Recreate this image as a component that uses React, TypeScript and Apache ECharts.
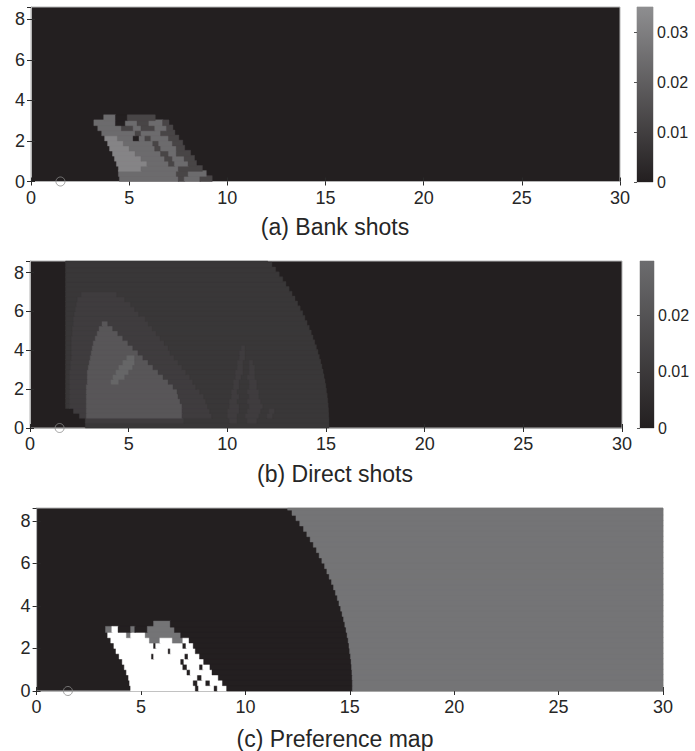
import React, { useEffect, useRef } from 'react';
import * as echarts from 'echarts';

const FONT = '"Liberation Sans", Arial, Helvetica, sans-serif';
const X_MAX = 30;
const X_STEP = 5;
const Y_MAX = 8.6;
const Y_STEP = 2;
const ROW_STEP = 0.25;

// Row format: "xStart level xEnd level xEnd ..."; rows go upward in steps of ROW_STEP from y = 0.
const bankLevels = [0, 0.012, 0.024, 0.032];
const bankRows = [
  '4.5 2 7.5 1 7.8 2 8.6 1 9.2',
  '4.45 2 7.4 1 8.0 2 8.9',
  '4.45 3 5.6 2 7.5 1 8.7',
  '4.35 3 5.9 2 7.0 1 7.3 2 8.0 1 8.4',
  '4.25 3 5.6 2 6.8 1 7.2 2 7.8 1 8.3',
  '4.15 3 5.3 2 6.6 1 7.0 2 7.4 1 8.1',
  '4.0 3 5.0 2 6.3 1 6.6 2 7.4 1 7.8',
  '3.9 3 4.7 2 6.2 1 6.5 2 7.2 1 7.7',
  '3.75 3 4.4 2 5.2 0 5.5 2 5.8 1 6.1 2 7.0 1 7.5',
  '3.6 2 5.3 1 5.6 2 6.6 1 7.3',
  '3.4 2 4.6 1 5.2 2 5.6 1 6.3 2 6.9 1 7.2',
  '3.2 2 4.3 0 4.8 2 5.4 1 6.0 2 6.7 1 7.0',
  '3.7 2 4.3 0 4.9 1 6.3',
];
const bankColorMax = 0.035;
const bankColors = ['#231f20', '#8e8e90'];

const directLevels = [0, 0.0091, 0.0113, 0.0214, 0.0272];
const directRows = [
  '2.8 1 15.12',
  '2.8 2 7.8 1 10.1 2 10.5 1 11.0 2 11.5 1 15.12',
  '2.5 2 2.85 3 7.7 2 9.2 1 10.0 2 10.5 1 10.9 2 11.6 1 12.0 2 12.3 1 15.11',
  '2.2 2 2.85 3 7.7 2 9.1 1 10.0 2 10.6 1 11.0 2 11.7 1 12.1 2 12.4 1 15.10',
  '1.8 1 2.0 2 2.85 3 7.7 2 9.0 1 10.1 2 10.6 1 11.1 2 11.8 1 15.08',
  '1.8 1 2.0 2 2.85 3 7.6 2 8.9 1 10.1 2 10.5 1 11.0 2 11.7 1 15.06',
  '1.8 1 2.0 2 2.85 3 7.5 2 8.8 1 10.2 2 10.6 1 11.1 2 11.6 1 15.03',
  '1.8 1 2.0 2 2.85 3 7.45 2 8.6 1 10.2 2 10.5 1 11.0 2 11.6 1 14.99',
  '1.8 1 2.0 2 2.85 3 7.25 2 8.4 1 10.3 2 10.6 1 11.1 2 11.5 1 14.96',
  '1.8 1 2.0 2 2.9 3 4.1 4 4.5 3 7.0 2 8.25 1 10.3 2 10.6 1 11.1 2 11.5 1 14.92',
  '1.8 1 2.0 2 2.9 3 4.2 4 4.8 3 6.74 2 8.1 1 10.4 2 10.7 1 11.0 2 11.4 1 14.87',
  '1.8 1 2.0 2 2.9 3 4.35 4 5.0 3 6.49 2 7.9 1 10.4 2 10.8 1 11.1 2 11.4 1 14.82',
  '1.8 1 2.05 2 2.95 3 4.5 4 5.2 3 6.23 2 7.7 1 10.5 2 10.8 1 11.1 2 11.4 1 14.76',
  '1.8 1 2.05 2 3.0 3 4.7 4 5.3 3 5.98 2 7.5 1 10.5 2 10.8 1 11.1 2 11.3 1 14.70',
  '1.8 1 2.1 2 3.05 3 4.9 4 5.3 3 5.72 2 7.3 1 10.6 2 10.9 1 14.63',
  '1.8 1 2.1 2 3.1 3 5.47 2 7.1 1 10.6 2 10.9 1 14.56',
  '1.8 1 2.1 2 3.15 3 5.21 2 7.0 1 10.7 2 10.9 1 14.48',
  '1.8 1 2.1 2 3.2 3 4.96 2 6.8 1 14.40',
  '1.8 1 2.1 2 3.3 3 4.7 2 6.6 1 14.31',
  '1.8 1 2.15 2 3.4 3 4.45 2 6.4 1 14.22',
  '1.8 1 2.15 2 3.5 3 4.19 2 6.2 1 14.12',
  '1.8 1 2.2 2 3.65 3 3.94 2 6.0 1 14.01',
  '1.8 1 2.2 2 5.85 1 13.90',
  '1.8 1 2.25 2 5.5 1 13.79',
  '1.8 1 2.3 2 5.3 1 13.66',
  '1.8 1 2.35 2 5.1 1 13.53',
  '1.8 1 2.4 2 4.8 1 13.40',
  '1.8 1 2.6 2 4.4 1 13.25',
  '1.8 1 13.10',
  '1.8 1 12.94',
  '1.8 1 12.78',
  '1.8 1 12.60',
  '1.8 1 12.42',
  '1.8 1 12.23',
  '1.8 1 12.02',
];
const directColorMax = 0.0297;
const directColors = ['#231f20', '#6c6c6e'];

const prefLevels = [0, 1, 2];
const prefRows = [
  '4.5 2 7.6 0 7.75 2 8.5 0 8.65 2 9.1 0 15.12 1 30',
  '4.45 2 7.5 0 7.7 2 8.1 0 8.3 2 8.9 0 15.12 1 30',
  '4.4 2 7.7 0 7.9 2 8.7 0 15.11 1 30',
  '4.3 2 7.2 0 7.35 2 8.4 0 15.10 1 30',
  '4.2 2 7.0 0 7.2 2 7.8 0 7.95 2 8.3 0 15.08 1 30',
  '4.1 2 6.9 0 7.05 2 8.0 0 15.06 1 30',
  '3.95 2 5.5 0 5.6 2 7.1 0 7.25 2 7.8 0 15.03 1 30',
  '3.8 2 6.3 0 6.4 2 7.6 0 14.99 1 30',
  '3.7 2 5.6 0 5.7 2 7.0 0 7.15 2 7.5 0 14.96 1 30',
  '3.55 2 5.4 1 5.9 2 6.5 1 7.0 2 7.3 0 14.92 1 30',
  '3.4 2 4.3 1 4.5 2 5.2 1 6.9 0 14.87 1 30',
  '3.3 1 3.6 2 3.9 0 4.5 1 4.7 0 5.3 1 6.6 0 14.82 1 30',
  '5.6 1 6.4 0 14.76 1 30',
  '14.70 1 30',
  '14.63 1 30',
  '14.56 1 30',
  '14.48 1 30',
  '14.40 1 30',
  '14.31 1 30',
  '14.22 1 30',
  '14.12 1 30',
  '14.01 1 30',
  '13.90 1 30',
  '13.79 1 30',
  '13.66 1 30',
  '13.53 1 30',
  '13.40 1 30',
  '13.25 1 30',
  '13.10 1 30',
  '12.94 1 30',
  '12.78 1 30',
  '12.60 1 30',
  '12.42 1 30',
  '12.23 1 30',
  '12.02 1 30',
];
const prefColors = ['#231f20', '#747476', '#ffffff'];

const hoop = [[1.5, 0]];
const titles = ['(a) Bank shots', '(b) Direct shots', '(c) Preference map'];

function parseRows(rows: string[], levels: number[]) {
  const out: number[][] = [];
  rows.forEach((row, r) => {
    const t = row.trim().split(/\s+/).map(Number);
    let x = t[0];
    for (let i = 1; i + 1 < t.length; i += 2) {
      const xe = t[i + 1];
      out.push([x, xe, r * ROW_STEP, (r + 1) * ROW_STEP, levels[t[i]]]);
      x = xe;
    }
  });
  return out;
}

const renderCell = (params: any, api: any) => {
  const p0 = api.coord([api.value(0), api.value(2)]);
  const p1 = api.coord([api.value(1), api.value(3)]);
  const cs = params.coordSys;
  const shape = echarts.graphic.clipRectByRect(
    { x: p0[0], y: p1[1] - 0.8, width: p1[0] - p0[0] + 0.6, height: p0[1] - p1[1] + 0.8 },
    { x: cs.x, y: cs.y, width: cs.width, height: cs.height }
  );
  if (!shape) return null;
  const color = api.visual('color');
  return { type: 'rect', shape, style: { fill: color, stroke: color, lineWidth: 0.4 } };
};

const renderBar = (colors: string[]) => (params: any) => {
  const cs = params.coordSys;
  return {
    type: 'rect',
    shape: { x: cs.x, y: cs.y, width: cs.width, height: cs.height },
    style: {
      fill: new echarts.graphic.LinearGradient(
        0, 1, 0, 0,
        colors.map((c, i) => ({ offset: i / (colors.length - 1), color: c }))
      ),
    },
  };
};

const TXT = '#262626';
const TICK = '#2a2a2a';
const BORDER = '#b4b4b4';

function plotAxes(gi: number) {
  const xb = {
    gridIndex: gi, type: 'value', min: 0, max: X_MAX, interval: X_STEP, position: 'bottom',
    axisLine: { show: true, lineStyle: { color: BORDER } },
    axisTick: { show: true, inside: true, length: 4, lineStyle: { color: TICK } },
    axisLabel: { show: true, fontSize: 18, fontFamily: FONT, color: TXT, margin: 7 },
    splitLine: { show: false },
  };
  const xt = {
    gridIndex: gi, type: 'value', min: 0, max: X_MAX, interval: X_STEP, position: 'top',
    axisLine: { show: false },
    axisTick: { show: true, inside: true, length: 4, lineStyle: { color: TICK } },
    axisLabel: { show: false },
    splitLine: { show: false },
  };
  const yl = {
    gridIndex: gi, type: 'value', min: 0, max: Y_MAX, interval: Y_STEP, position: 'left',
    axisLine: { show: true, lineStyle: { color: BORDER } },
    axisTick: { show: true, inside: true, length: 4, lineStyle: { color: TICK } },
    axisLabel: { show: true, fontSize: 18, fontFamily: FONT, color: TXT, margin: 6, showMaxLabel: false },
    splitLine: { show: false },
  };
  const yr = {
    gridIndex: gi, type: 'value', min: 0, max: Y_MAX, interval: Y_STEP, position: 'right',
    axisLine: { show: false },
    axisTick: { show: true, inside: true, length: 4, lineStyle: { color: TICK } },
    axisLabel: { show: false },
    splitLine: { show: false },
  };
  return { xs: [xb, xt], ys: [yl, yr] };
}

function barAxes(gi: number, max: number) {
  const x = { gridIndex: gi, type: 'value', min: 0, max: 1, show: false };
  const y = {
    gridIndex: gi, type: 'value', min: 0, max, interval: 0.01, position: 'right',
    axisLine: { show: false },
    axisTick: { show: true, inside: true, length: 3, lineStyle: { color: '#555' } },
    axisLabel: {
      show: true, fontSize: 16, fontFamily: FONT, color: TXT, margin: 4, showMaxLabel: false,
      formatter: (v: number) => String(Math.round(v * 100) / 100),
    },
    splitLine: { show: false },
  };
  return { xs: [x], ys: [y] };
}

export default function App() {
  const ref = useRef<HTMLDivElement>(null);
  useEffect(() => {
    if (!ref.current) return;
    const chart = echarts.init(ref.current, undefined, { renderer: 'svg' });

    const plotGrid = (left: number, top: number, width: number, height: number) => ({
      left, top, width, height, show: true, backgroundColor: '#231f20',
      borderColor: BORDER, borderWidth: 1, containLabel: false, outerBoundsMode: 'none',
    });
    const barGrid = (left: number, top: number, width: number, height: number) => ({
      left, top, width, height, show: true, backgroundColor: 'transparent',
      borderColor: BORDER, borderWidth: 1, containLabel: false, outerBoundsMode: 'none',
    });

    const a = plotAxes(0);
    const ab = barAxes(1, bankColorMax);
    const b = plotAxes(2);
    const bb = barAxes(3, directColorMax);
    const c = plotAxes(4);
    const xAxis = [...a.xs, ...ab.xs, ...b.xs, ...bb.xs, ...c.xs];
    const yAxis = [...a.ys, ...ab.ys, ...b.ys, ...bb.ys, ...c.ys];

    const cellSeries = (xi: number, data: number[][]) => ({
      type: 'custom', coordinateSystem: 'cartesian2d', xAxisIndex: xi, yAxisIndex: xi,
      data, renderItem: renderCell, encode: { x: [0, 1], y: [2, 3] }, silent: true,
    });
    const hoopSeries = (xi: number) => ({
      type: 'scatter', xAxisIndex: xi, yAxisIndex: xi, data: hoop, symbol: 'circle', symbolSize: 9,
      itemStyle: { color: 'rgba(0,0,0,0)', borderColor: '#8a8a8a', borderWidth: 1 },
      clip: true, silent: true, z: 5,
    });

    const titleText = (text: string, y: number) => ({
      type: 'text', x: 335, y,
      style: {
        text, fontSize: 23, fontFamily: FONT, fill: TXT,
        align: 'center', verticalAlign: 'middle', textAlign: 'center', textVerticalAlign: 'middle',
      },
    });

    chart.setOption({
      animation: false,
      backgroundColor: '#ffffff',
      grid: [
        plotGrid(31, 7, 589, 174.5),
        barGrid(637, 7, 16, 175),
        plotGrid(30, 261, 592, 167),
        barGrid(640, 261, 14, 167),
        plotGrid(36.6, 508, 626.4, 183),
      ],
      xAxis,
      yAxis,
      visualMap: [
        { type: 'continuous', show: false, seriesIndex: 0, dimension: 4, min: 0, max: bankColorMax, inRange: { color: bankColors } },
        { type: 'continuous', show: false, seriesIndex: 1, dimension: 4, min: 0, max: directColorMax, inRange: { color: directColors } },
        {
          type: 'piecewise', show: false, seriesIndex: 2, dimension: 4,
          pieces: prefLevels.map((v, i) => ({ value: v, color: prefColors[i] })),
        },
      ],
      series: [
        cellSeries(0, parseRows(bankRows, bankLevels)),
        cellSeries(3, parseRows(directRows, directLevels)),
        cellSeries(6, parseRows(prefRows, prefLevels)),
        { type: 'custom', coordinateSystem: 'cartesian2d', xAxisIndex: 2, yAxisIndex: 2, data: [[0.5, 0]], renderItem: renderBar(bankColors), silent: true },
        { type: 'custom', coordinateSystem: 'cartesian2d', xAxisIndex: 5, yAxisIndex: 5, data: [[0.5, 0]], renderItem: renderBar(directColors), silent: true },
        hoopSeries(0),
        hoopSeries(3),
        hoopSeries(6),
      ],
      graphic: [
        titleText(titles[0], 227),
        titleText(titles[1], 474),
        titleText(titles[2], 739),
      ],
    });
    return () => chart.dispose();
  }, []);
  return (
    <div
      ref={ref}
      style={{ position: 'absolute', left: 0, top: 0, width: 695, height: 751, background: '#fff' }}
    />
  );
}
